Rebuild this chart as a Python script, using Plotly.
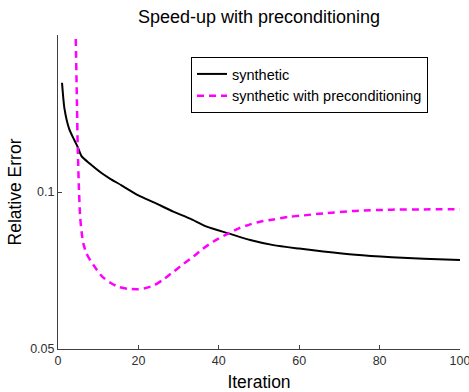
import math
import plotly.graph_objects as go

# Data
iter_synth = [1, 1.6, 2.8, 4.05, 4.9, 5.9, 7.8, 10.9, 13, 15.8, 20, 24, 28.7, 33, 37, 42.4, 47.8, 53.6, 60, 66, 74, 83, 91, 100]
err_synth = [0.162, 0.1447, 0.132, 0.1258, 0.122, 0.117, 0.1135, 0.1086, 0.106, 0.103, 0.0985, 0.0954, 0.0917, 0.0888, 0.0858, 0.0833, 0.0809, 0.0791, 0.0779, 0.0769, 0.0758, 0.0750, 0.0745, 0.0741]

iter_prec = [4.0, 4.4, 4.7, 4.9, 5.2, 5.5, 5.9, 6.3, 7.0, 8, 9.5, 11, 13, 15, 17.5, 20, 22, 24, 26, 28.7, 31, 33.7, 36, 38.6, 42.4, 45, 47.8, 50.5, 53.6, 57.7, 60, 66, 74, 83, 91, 100]
err_prec = [0.3, 0.2, 0.15, 0.122, 0.102, 0.0897, 0.0835, 0.0797, 0.0765, 0.074, 0.0712, 0.0688, 0.0670, 0.0658, 0.0652, 0.0651, 0.0655, 0.0663, 0.0678, 0.0703, 0.0726, 0.0752, 0.0778, 0.0803, 0.0833, 0.0852, 0.0867, 0.0878, 0.0886, 0.0897, 0.0900, 0.0910, 0.0920, 0.0925, 0.0926, 0.0927]

x_ticks = [0, 20, 40, 60, 80, 100]
y_ticks = [0.05, 0.1]
y_ticklabels = ["0.05", "0.1"]

fig = go.Figure()
fig.add_trace(go.Scatter(x=iter_synth, y=err_synth, mode="lines", name="synthetic",
                         line=dict(color="black", width=2, shape="spline", smoothing=0.6)))
fig.add_trace(go.Scatter(x=iter_prec, y=err_prec, mode="lines", name="synthetic with preconditioning",
                         line=dict(color="#ff00ff", width=2.5, dash="7px,5px", shape="spline", smoothing=0.6)))

font = "Liberation Sans, Arial, sans-serif"
L, R, T, B = 58, 9, 35, 43
W, H = 469, 392
pw, ph = W - L - R, H - T - B

fig.update_layout(
    width=W, height=H,
    margin=dict(l=L, r=R, t=T, b=B, autoexpand=False),
    paper_bgcolor="white", plot_bgcolor="white",
    font=dict(family=font, color="black"),
    title=dict(text="Speed-up with preconditioning", x=0.5, xref="paper", xanchor="center",
               yref="container", y=1 - 17 / H, yanchor="middle",
               font=dict(size=18, family=font, color="black")),
    showlegend=True,
    legend=dict(x=(191 - L) / pw, y=(H - B - 57) / ph, xanchor="left", yanchor="top",
                bordercolor="black", borderwidth=1, bgcolor="white",
                font=dict(size=14.5, family=font, color="black"), tracegroupgap=0),
    xaxis=dict(range=[0, 100], tickvals=x_ticks, ticks="inside", ticklen=4, tickcolor="#404040",
               showline=True, linecolor="#404040", linewidth=1, showgrid=False, zeroline=False,
               tickfont=dict(size=12.5, color="#303030", family=font), ticklabeloverflow="allow",
               automargin=False,
               title=dict(text="Iteration", font=dict(size=17.5, family=font, color="black"), standoff=8)),
    yaxis=dict(type="log", range=[math.log10(0.05), math.log10(0.2)],
               tickvals=y_ticks, ticktext=y_ticklabels, ticks="inside", ticklen=4, tickcolor="#404040",
               showline=True, linecolor="#404040", linewidth=1, showgrid=False, zeroline=False,
               tickfont=dict(size=12.5, color="#303030", family=font), automargin=False,
               title=dict(text="Relative Error", font=dict(size=17.5, family=font, color="black"), standoff=4)),
)

fig.write_html("out.html", config={"displayModeBar": False},
               post_script="document.body.style.margin='0';document.body.style.overflow='hidden';")
